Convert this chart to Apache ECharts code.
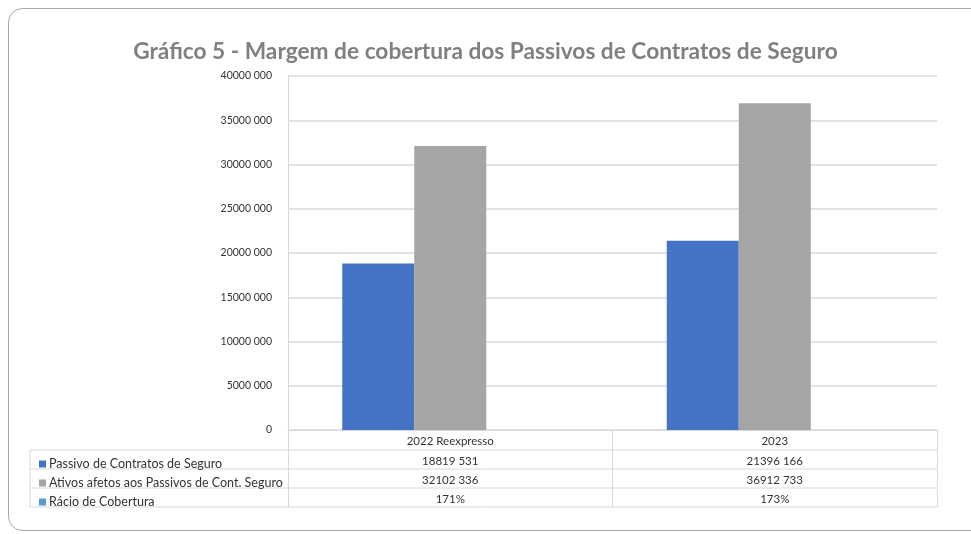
<!DOCTYPE html>
<html>
<head>
<meta charset="utf-8">
<script src="https://cdn.jsdelivr.net/npm/echarts@6/dist/echarts.min.js"></script>
<style>
  html, body { margin: 0; padding: 0; background: #fff; }
  #chart { width: 971px; height: 534px; }
</style>
</head>
<body>
<div id="chart"></div>
<script>
const categories = ['2022 Reexpresso', '2023'];
const passivo = [18819531, 21396166];
const ativos = [32102336, 36912733];
const racio = [171, 173];
const yTicks = { min: 0, max: 40000000, interval: 5000000 };

const seriesNames = [
    'Passivo de Contratos de Seguro',
    'Ativos afetos aos Passivos de Cont. Seguro',
    'Rácio de Cobertura'
];
const colors = ['#4472c4', '#a5a5a5', '#5b9bd5'];

// "18819 531" style: space only before the last three digits
const fmtNum = (v) => {
    v = Math.round(v);
    if (v < 1000) return String(v);
    const head = Math.floor(v / 1000);
    const tail = String(v % 1000).padStart(3, '0');
    return head + ' ' + tail;
};

const chartDom = document.getElementById('chart');
const myChart = echarts.init(chartDom);

const FONT = 'Lato';
const textColor = '#333';
const lineColor = '#d9d9d9';

const grid = { left: 288, right: 34, top: 76, bottom: 104 };
const rowH = 19;
const tableTop = 534 - grid.bottom;   // axis line
const tableLeft = 30;
const tableRight = 971 - grid.right;

// extra x axes used as rows of the data table
const rowAxis = (values, fmt, margin) => ({
    type: 'category',
    data: categories,
    position: 'bottom',
    gridIndex: 0,
    axisLine: { show: false },
    axisTick: { show: false },
    splitLine: { show: false },
    axisLabel: {
        margin,
        color: textColor,
        fontFamily: FONT,
        fontSize: 11.5,
        formatter: (val, idx) => fmt(values[idx])
    }
});

const tableLines = [];
for (let i = 1; i <= 4; i++) {
    const y = tableTop + 1 + rowH * i;
    tableLines.push({
        type: 'line',
        shape: { x1: tableLeft, y1: y, x2: tableRight, y2: y },
        style: { stroke: lineColor, lineWidth: 1 }
    });
}
tableLines.push({
    type: 'line',
    shape: { x1: tableLeft, y1: tableTop + 1 + rowH, x2: tableLeft, y2: tableTop + 1 + rowH * 4 },
    style: { stroke: lineColor, lineWidth: 1 }
});

const option = {
    backgroundColor: '#fff',
    animation: false,
    title: {
        text: 'Gráfico 5 - Margem de cobertura dos Passivos de Contratos de Seguro',
        left: 'center',
        top: 35,
        textStyle: {
            color: '#808080',
            fontFamily: FONT,
            fontWeight: 'bold',
            fontSize: 22.7
        }
    },
    legend: {
        orient: 'vertical',
        left: tableLeft + 4,
        top: tableTop + rowH + 3,
        itemWidth: 7,
        itemHeight: 7,
        itemGap: 5,
        icon: 'rect',
        selectedMode: false,
        textStyle: { color: textColor, fontFamily: FONT, fontSize: 12.5, lineHeight: 14, padding: [0, 0, 0, -2] },
        data: seriesNames
    },
    grid,
    xAxis: [
        {
            type: 'category',
            data: categories,
            position: 'bottom',
            axisLine: { show: true, lineStyle: { color: lineColor, width: 1 } },
            axisTick: { show: true, length: rowH * 4 + 1, lineStyle: { color: lineColor } },
            axisLabel: { margin: 5, color: textColor, fontFamily: FONT, fontSize: 11.5 }
        },
        rowAxis(passivo, fmtNum, 6 + rowH),
        rowAxis(ativos, fmtNum, 6 + rowH * 2),
        rowAxis(racio, (v) => v + '%', 6 + rowH * 3)
    ],
    yAxis: {
        type: 'value',
        min: yTicks.min,
        max: yTicks.max,
        interval: yTicks.interval,
        axisLine: { show: true, lineStyle: { color: lineColor } },
        axisTick: { show: false },
        splitLine: { lineStyle: { color: lineColor, width: 1.5 } },
        axisLabel: {
            margin: 16,
            color: textColor,
            fontFamily: FONT,
            fontSize: 10.5,
            formatter: fmtNum
        }
    },
    series: [
        { name: seriesNames[0], type: 'bar', data: passivo, barWidth: 72, barGap: '0%', itemStyle: { color: colors[0] } },
        { name: seriesNames[1], type: 'bar', data: ativos, barWidth: 72, barGap: '0%', itemStyle: { color: colors[1] } },
        { name: seriesNames[2], type: 'bar', data: racio, barWidth: 72, barGap: '0%', itemStyle: { color: colors[2] } }
    ],
    graphic: [
        {
            type: 'rect',
            silent: true,
            shape: { x: 8.5, y: 8.5, width: 1000, height: 522, r: 14 },
            style: { fill: 'none', stroke: '#a6a6a6', lineWidth: 1 }
        }
    ].concat(tableLines)
};

myChart.setOption(option);
</script>
</body>
</html>
